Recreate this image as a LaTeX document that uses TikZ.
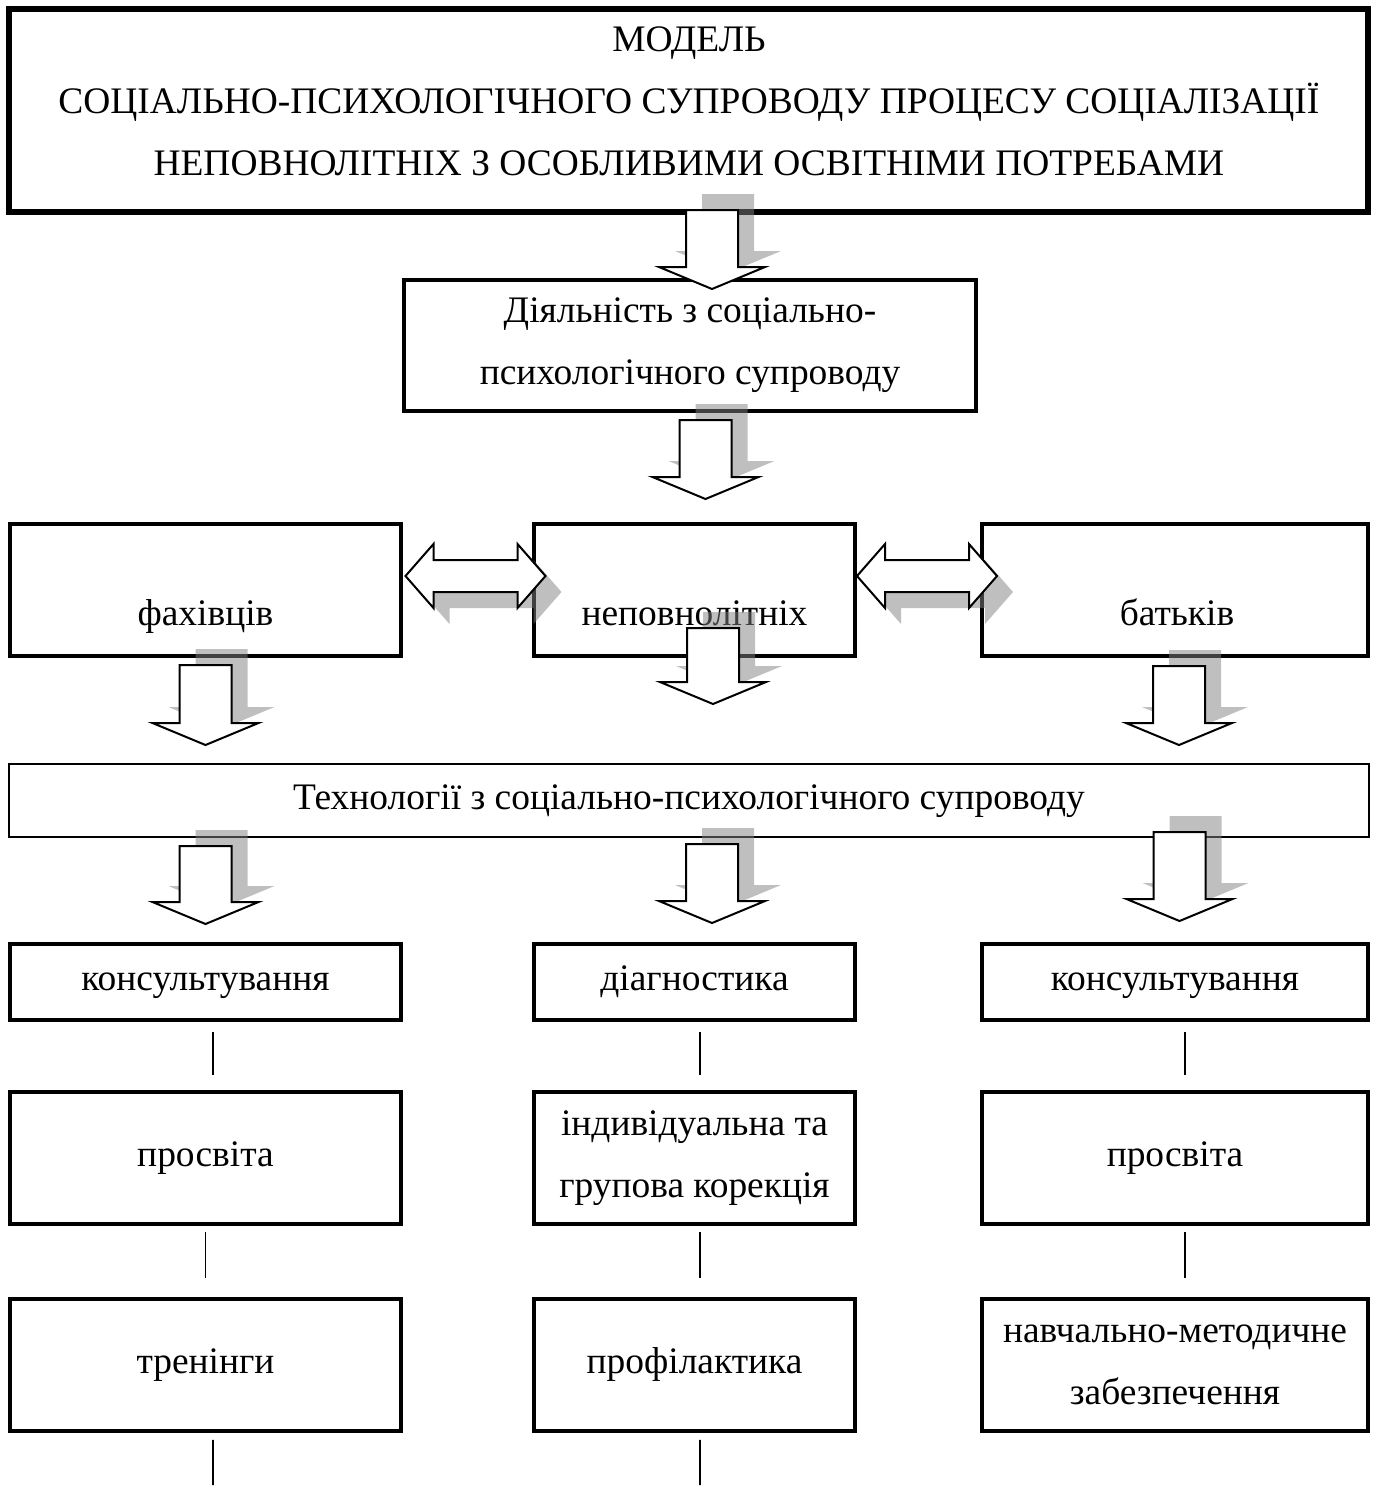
\documentclass[tikz,border=0pt]{standalone}
\usepackage{fontspec}
\setmainfont{Liberation Serif}

\begin{document}
\begin{tikzpicture}[
  x=0.1mm, y=-0.1mm,
  every node/.style={font=\fontsize{10.65}{17.6}\selectfont},
  box/.style={rectangle, draw, inner sep=0pt, align=center},
  txt/.style={inner sep=0pt, align=center},
  line1/.style={text height=2.55mm, text depth=0.82mm},
  link/.style={line width=0.18mm},
  ghost/.style={fill=black!50, fill opacity=0.5},
  blk/.style={draw, fill=white, line width=0.2mm, line join=miter},
  pics/blkdown/.style={code={
    \fill[ghost, shift={(16,-16)}] (-26,0) -- (26,0) -- (26,#1) -- (53,#1) -- (0,#1+22) -- (-53,#1) -- (-26,#1) -- cycle;
    \draw[blk] (-26,0) -- (26,0) -- (26,#1) -- (53,#1) -- (0,#1+22) -- (-53,#1) -- (-26,#1) -- cycle;
  }},
  pics/blkboth/.style={code={
    \fill[ghost, shift={(16,16)}] (-70,0) -- (-42,-32) -- (-42,-16) -- (42,-16) -- (42,-32) -- (70,0) -- (42,32) -- (42,16) -- (-42,16) -- (-42,32) -- cycle;
    \draw[blk] (-70,0) -- (-42,-32) -- (-42,-16) -- (42,-16) -- (42,-32) -- (70,0) -- (42,32) -- (42,16) -- (-42,16) -- (-42,32) -- cycle;
  }}
]
  \useasboundingbox (0,0) rectangle (1382,1499);

  % Model
  \node[box, line width=0.6mm, minimum width=135.9mm, minimum height=20.3mm] (model) at (688.5,110.5) {};
  \node[txt] (modelT) at (689,101) {МОДЕЛЬ\\СОЦІАЛЬНО-ПСИХОЛОГІЧНОГО СУПРОВОДУ ПРОЦЕСУ СОЦІАЛІЗАЦІЇ\\НЕПОВНОЛІТНІХ З ОСОБЛИВИМИ ОСВІТНІМИ ПОТРЕБАМИ};

  \node[box, line width=0.45mm, minimum width=57.2mm, minimum height=13.1mm] (act) at (690,345.5) {Діяльність з соціально-\\психологічного супроводу};

  % Participants
  \node[box, line width=0.4mm, minimum width=39.1mm, minimum height=13.2mm] (fah) at (205.5,590) {};
  \node[box, line width=0.4mm, minimum width=32.1mm, minimum height=13.2mm] (nep) at (694.5,590) {};
  \node[box, line width=0.4mm, minimum width=38.6mm, minimum height=13.2mm] (bat) at (1175,590) {};
  \node[txt, line1] (fahT) at (205.5,617) {фахівців};
  \node[txt, line1] (nepT) at (694.5,617) {неповнолітніх};
  \node[txt, line1] (batT) at (1177,617) {батьків};

  \node[box, line1, line width=0.2mm, minimum width=136mm, minimum height=7.3mm] (tech) at (689,800.5) {Технології з соціально-психологічного супроводу};

  % Technologies
  \node[box, line1, line width=0.35mm, minimum width=39.1mm, minimum height=7.6mm] (kons1) at (205.5,982) {консультування};
  \node[box, line1, line width=0.35mm, minimum width=32.1mm, minimum height=7.6mm] (diag) at (694.5,982) {діагностика};
  \node[box, line1, line width=0.35mm, minimum width=38.6mm, minimum height=7.6mm] (kons2) at (1175,982) {консультування};

  \node[box, line1, line width=0.35mm, minimum width=39.1mm, minimum height=13.2mm] (pros1) at (205.5,1158) {просвіта};
  \node[box, line width=0.35mm, minimum width=32.1mm, minimum height=13.2mm] (korek) at (694.5,1158) {індивідуальна та\\групова корекція};
  \node[box, line1, line width=0.35mm, minimum width=38.6mm, minimum height=13.2mm] (pros2) at (1175,1158) {просвіта};

  \node[box, line1, line width=0.35mm, minimum width=39.1mm, minimum height=13.2mm] (tren) at (205.5,1365) {тренінги};
  \node[box, line1, line width=0.35mm, minimum width=32.1mm, minimum height=13.2mm] (prof) at (694.5,1365) {профілактика};
  \node[box, line width=0.35mm, minimum width=38.6mm, minimum height=13.2mm] (metod) at (1175,1365) {навчально-методичне\\забезпечення};

  % Thin links
  \foreach \u/\v/\dx in {kons1/pros1/0.75mm, diag/korek/0.55mm, kons2/pros2/1mm}
    \draw[link] ([xshift=\dx, yshift=-1mm]\u.south) -- ([xshift=\dx, yshift=1.5mm]\v.north);
  \foreach \u/\v/\dx in {pros1/tren/0mm, korek/prof/0.55mm, pros2/metod/1mm}
    \draw[link] ([xshift=\dx, yshift=-0.6mm]\u.south) -- ([xshift=\dx, yshift=1.9mm]\v.north);
  \coordinate (end1) at (213,1485);
  \coordinate (end2) at (700,1485);
  \draw[link] ([xshift=0.75mm, yshift=-0.7mm]tren.south) -- (end1);
  \draw[link] ([xshift=0.55mm, yshift=-0.7mm]prof.south) -- (end2);

  % Block arrows
  \pic at (712,210) {blkdown=57};
  \pic at (705.5,420) {blkdown=57};
  \pic at (205.5,665) {blkdown=58};
  \pic at (713,628) {blkdown=54};
  \pic at (1179,666) {blkdown=57};
  \pic at (205.5,846) {blkdown=56};
  \pic at (712,844) {blkdown=57};
  \pic at (1179.5,832) {blkdown=67};
  \pic at (475.5,576) {blkboth};
  \pic at (927,576) {blkboth};
\end{tikzpicture}
\end{document}
